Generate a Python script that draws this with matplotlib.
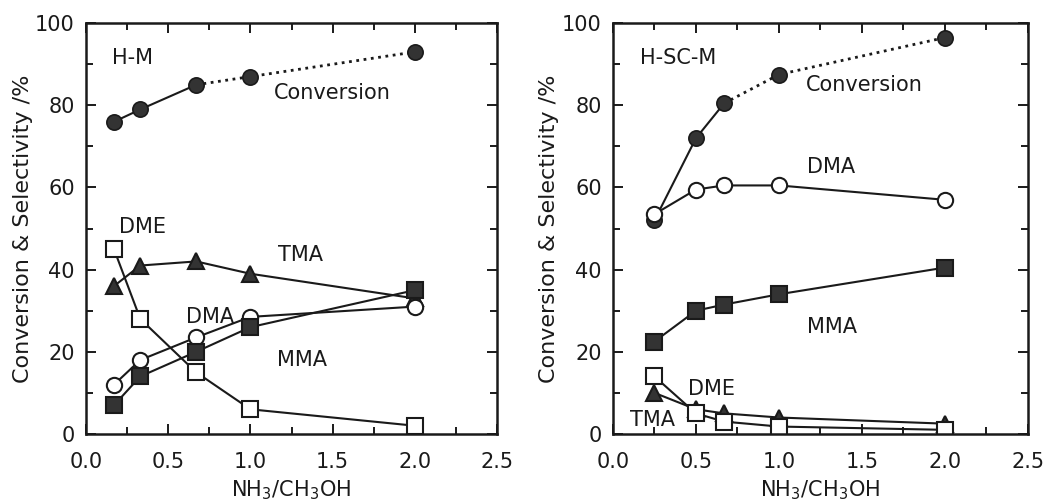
import matplotlib
matplotlib.use('Agg')
import matplotlib.pyplot as plt
from matplotlib.ticker import MultipleLocator

plt.rcParams['font.family'] = ['DejaVu Sans']

# H-M catalyst
hm_x = [0.17, 0.33, 0.67, 1.0, 2.0]
hm_conv = [76, 79, 85, 87, 93]
hm_tma = [36, 41, 42, 39, 33]
hm_dme = [45, 28, 15, 6, 2]
hm_dma = [12, 18, 23.5, 28.5, 31]
hm_mma = [7, 14, 20, 26, 35]

# H-SC-M catalyst
hsc_x = [0.25, 0.5, 0.67, 1.0, 2.0]
hsc_conv = [52, 72, 80.5, 87.5, 96.5]
hsc_dma = [53.5, 59.5, 60.5, 60.5, 57]
hsc_mma = [22.5, 30, 31.5, 34, 40.5]
hsc_tma = [10, 6, 5, 4, 2.5]
hsc_dme = [14, 5, 3, 1.8, 1]

ink = '#1a1a1a'


def drawPanel(ax, x, conv, series, labels):

    # conversion: solid for the first points, dotted after
    ax.plot(x[:3], conv[:3], '-', color=ink, lw=1.5)
    ax.plot(x[2:], conv[2:], ':', color=ink, lw=2.0)
    ax.plot(x, conv, 'o', color=ink, mfc='#333333', ms=11, mec=ink, mew=1.2)

    for y, marker, filled in series:
        ax.plot(x, y, '-', color=ink, lw=1.5, marker=marker, ms=11,
                mfc='#333333' if filled else 'white', mec=ink, mew=1.5)

    for tx, ty, s in labels:
        ax.text(tx, ty, s, fontsize=15, color=ink, va='center', ha='left')

    ax.set_xlim(0, 2.5)
    ax.set_ylim(0, 100)
    ax.xaxis.set_major_locator(MultipleLocator(0.5))
    ax.xaxis.set_minor_locator(MultipleLocator(0.25))
    ax.yaxis.set_major_locator(MultipleLocator(20))
    ax.yaxis.set_minor_locator(MultipleLocator(10))
    ax.xaxis.set_major_formatter(lambda v, p: '%.1f' % v)
    ax.tick_params(which='both', direction='in', top=True, right=True,
                   width=1.4, labelsize=15, colors=ink)
    ax.tick_params(which='major', length=7)
    ax.tick_params(which='minor', length=5)
    ax.tick_params(axis='x', which='major', pad=13)
    ax.tick_params(axis='y', which='major', pad=8)
    for sp in ax.spines.values():
        sp.set_linewidth(1.8)
        sp.set_color(ink)
    ax.set_xlabel('NH$_3$/CH$_3$OH', fontsize=15, color=ink, va='center')
    ax.set_ylabel('Conversion & Selectivity /%', fontsize=16, color=ink)
    ax.xaxis.set_label_coords(0.5, -0.138)
    ax.yaxis.set_label_coords(-0.13, 0.5)


fig = plt.figure(figsize=(10.53, 5.04), dpi=100)
ax1 = fig.add_axes([0.0817, 0.139, 0.3903, 0.815])
ax2 = fig.add_axes([0.5821, 0.139, 0.3941, 0.815])

drawPanel(ax1, hm_x, hm_conv,
          [(hm_tma, '^', True), (hm_dme, 's', False),
           (hm_dma, 'o', False), (hm_mma, 's', True)],
          [(0.16, 91.5, 'H-M'), (1.14, 83, 'Conversion'), (0.2, 50.5, 'DME'),
           (1.17, 43.5, 'TMA'), (0.61, 28.5, 'DMA'), (1.16, 18, 'MMA')])

drawPanel(ax2, hsc_x, hsc_conv,
          [(hsc_dma, 'o', False), (hsc_mma, 's', True),
           (hsc_tma, '^', True), (hsc_dme, 's', False)],
          [(0.16, 91.5, 'H-SC-M'), (1.16, 85, 'Conversion'), (1.17, 65, 'DMA'),
           (1.17, 26, 'MMA'), (0.45, 11, 'DME'), (0.1, 3.5, 'TMA')])

fig.savefig('out.png', dpi=100)
